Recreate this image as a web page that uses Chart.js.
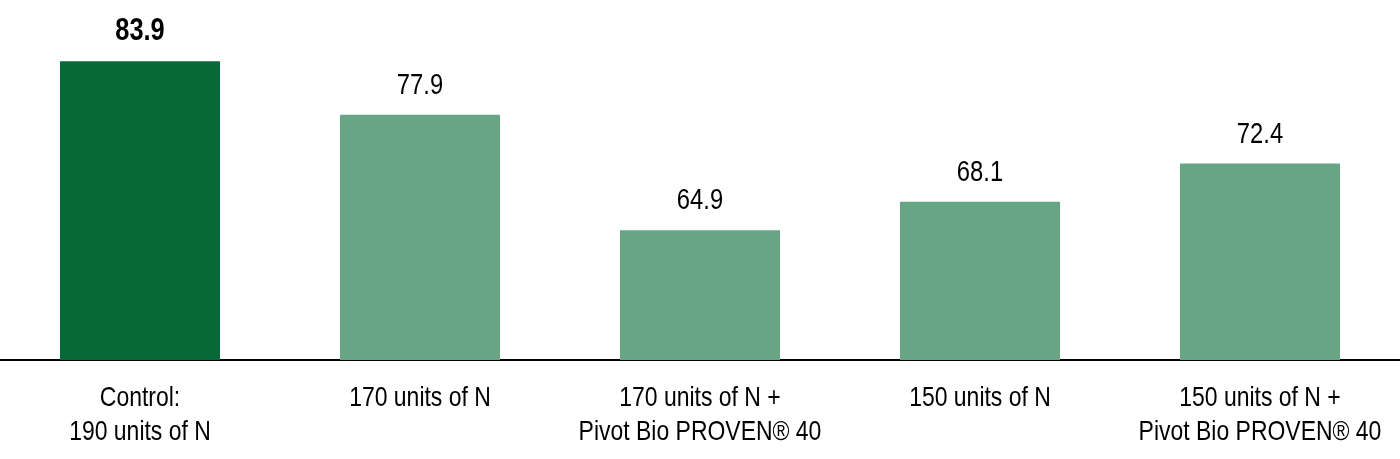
<!DOCTYPE html>
<html>
<head>
<meta charset="utf-8">
<script src="https://cdn.jsdelivr.net/npm/chart.js@4"></script>
<style>
    html, body { margin: 0; padding: 0; background: #fff; }
    #wrap { width: 1400px; height: 459px; position: relative; }
</style>
</head>
<body>
<div id="wrap"><canvas id="chart"></canvas></div>
<script>
// data
const categories = [
    ['Control:', '190 units of N'],
    ['170 units of N'],
    ['170 units of N +', 'Pivot Bio PROVEN® 40'],
    ['150 units of N'],
    ['150 units of N +', 'Pivot Bio PROVEN® 40'],
];
const yieldValues = [83.9, 77.9, 64.9, 68.1, 72.4];

const fontFamily = "'Liberation Sans', Arial, sans-serif";
const narrow = 0.82; //no narrow font installed, squeeze Liberation Sans instead
const darkGreen = '#066a38';
const lightGreen = '#67a584';

function narrowText(ctx, text, x, y) {
    ctx.save();
    ctx.translate(x, y);
    ctx.scale(narrow, 1);
    ctx.fillText(text, 0, 0);
    ctx.restore();
}

//value labels above the bars, first one is bold
//category labels under the axis, drawn squeezed
const textLabels = {
    id: 'textLabels',
    afterDatasetsDraw(chart) {
        const ctx = chart.ctx;
        const meta = chart.getDatasetMeta(0);
        const xScale = chart.scales.x;
        ctx.save();
        ctx.textAlign = 'center';
        ctx.textBaseline = 'alphabetic';
        ctx.fillStyle = '#000';
        meta.data.forEach((bar, i) => {
            ctx.font = (i === 0 ? 'bold 31px ' : '29px ') + fontFamily;
            narrowText(ctx, yieldValues[i].toFixed(1), bar.x, bar.y - 21);
        });
        ctx.font = '28px ' + fontFamily;
        categories.forEach((lines, i) => {
            const x = xScale.getPixelForTick(i);
            lines.forEach((line, j) => {
                narrowText(ctx, line, x, xScale.top + 46 + j * 34);
            });
        });
        ctx.restore();
    },
};

const ctx = document.getElementById('chart').getContext('2d');
new Chart(ctx, {
    type: 'bar',
    data: {
        labels: categories,
        datasets: [{
            data: yieldValues,
            backgroundColor: yieldValues.map((v, i) => i === 0 ? darkGreen : lightGreen),
            borderWidth: 0,
            barPercentage: 0.5714,
            categoryPercentage: 1.0,
        }],
    },
    options: {
        responsive: true,
        maintainAspectRatio: false,
        animation: false,
        layout: { padding: 0 },
        plugins: {
            legend: { display: false },
            tooltip: { enabled: false },
        },
        scales: {
            x: {
                grid: { display: false, drawTicks: false },
                border: { display: true, color: '#000', width: 2 },
                ticks: { display: false },
                afterFit(scale) {
                    scale.height = 99;
                },
            },
            y: {
                display: false,
                min: 50.3,
                max: 90.8,
            },
        },
    },
    plugins: [textLabels],
});
</script>
</body>
</html>
